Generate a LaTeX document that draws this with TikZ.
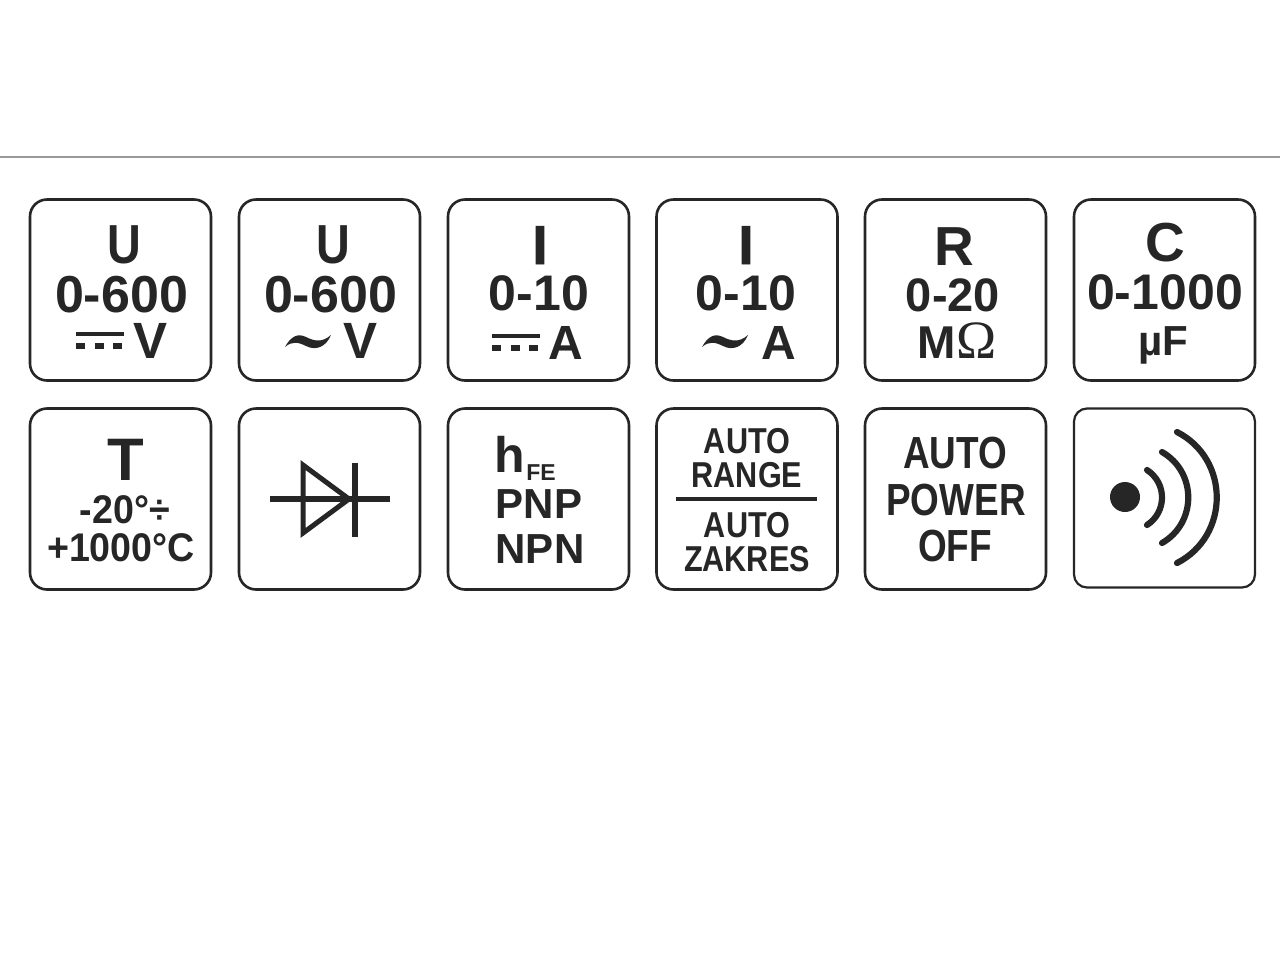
\documentclass[tikz,border=0pt]{standalone}
\usepackage{fontspec}
\setmainfont{Liberation Sans}
\newfontfamily\narrowfont[FakeStretch=0.85]{Liberation Sans}
\newfontfamily\powerfont[FakeStretch=0.82]{Liberation Sans}
\newfontfamily\tempfont[FakeStretch=0.94]{Liberation Sans}
\newfontfamily\heavyfont[FakeBold=1.5]{Liberation Sans}
\newfontfamily\omegafont{Liberation Serif}
\newcommand{\fs}[1]{\fontsize{#1}{#1}\selectfont\bfseries}
\definecolor{ink}{HTML}{262626}
\tikzset{
        tile/.style={draw=ink, line width=1.3pt, rounded corners=8.5pt, minimum size=90.5pt, inner sep=0pt},
        lbl/.style={text=ink, anchor=base, inner sep=0pt},
        huge/.style={lbl, font=\narrowfont\fs{27.5}},
        mid/.style={lbl, font=\fs{25}},
        temp/.style={lbl, font=\tempfont\fs{20}},
        nar/.style={lbl, font=\narrowfont\fs{18}},
        pow/.style={lbl, font=\powerfont\fs{22.5}},
        sym/.style={ink, line width=3.4pt},
        wave/.style={ink, line width=3.1pt, line cap=round}
}

\begin{document}
\begin{tikzpicture}[x=0.5pt, y=-0.5pt]
        \useasboundingbox (0, 0) rectangle (1280, 960);
        \draw[black!40, line width=0.7pt] (0, 157) -- (1280, 157);

        % top row, then bottom row
        \foreach \n/\x in {a/120.5, b/329.5, c/538.5, d/747, e/955.5, f/1164.5}
                \node[tile] (tile\n) at (\x, 290) {};
        \foreach \n/\x in {g/120.5, h/329.5, i/538.5, j/747, k/955.5}
                \node[tile] (tile\n) at (\x, 499) {};
        \node[tile, line width=1.1pt, rounded corners=6.5pt, minimum height=89.5pt] (tilel) at (1164.5, 498) {};

        \foreach \n/\x/\txt in {ua/124/U, ub/333/U}
                \node[huge] (head\n) at (\x, 263) {\txt};
        \foreach \n/\x/\txt in {ia/540/I, ib/746/I}
                \node[lbl, font=\heavyfont\fs{27.5}] (head\n) at (\x, 264) {\txt};
        \foreach \n/\x/\y/\txt in {r/954/265/R, c/1165/261/C}
                \node[lbl, font=\fs{27.5}] (head\n) at (\x, \y) {\txt};
        \node[mid, font=\fs{26}] (rangeua) at (121.5, 312) {0-600};
        \node[mid, font=\fs{26}] (rangeub) at (330.5, 312) {0-600};
        \foreach \n/\x/\y/\txt in {ia/539/310/0-10, ib/746/310/0-10, c/1165/309/0-1000}
                \node[mid] (range\n) at (\x, \y) {\txt};
        \node[mid, font=\fs{23.5}] (ranger) at (953, 311) {0-20};
        \foreach \n/\x/\y/\txt in {ua/151/358/V, ub/361/358/V}
                \node[lbl, font=\fs{25.5}] (unit\n) at (\x, \y) {\txt};
        \foreach \n/\x/\txt in {ia/566/A, ib/779/A}
                \node[lbl, font=\fs{24}] (unit\n) at (\x, 359) {\txt};
        \node[lbl, font=\fs{23}] (unitr) at (957, 358) {M{\omegafont\mdseries\fontsize{27}{27}\selectfont\char"03A9}};
        \node[lbl, font=\fs{21}] (unitc) at (1163, 355) {µF};

        % dc marks
        \foreach \x/\y in {76/334, 492/336} {
                \draw[ink, line width=1.8pt] (\x, \y) -- ++(48, 0);
                \draw[ink, line width=2.8pt, dash pattern=on 4.5pt off 4.8pt] (\x, \y+12) -- ++(48, 0);
        }
        % ac marks
        \foreach \x in {285, 702}
                \fill[ink] (\x, 347) .. controls (\x+6, 336) and (\x+13, 333) .. (\x+21, 337)
                        .. controls (\x+29, 341) and (\x+37, 343) .. (\x+46, 335)
                        .. controls (\x+41, 347) and (\x+31, 351) .. (\x+21, 346)
                        .. controls (\x+13, 342) and (\x+7, 341) .. (\x, 347) -- cycle;

        % temperature
        \node[lbl, font=\fs{30}] (tempt) at (126, 480) {T};
        \node[temp] (tempa) at (125, 523) {-20°÷};
        \node[temp] (tempb) at (121, 561) {+1000°C};

        % diode
        \draw[sym] (270, 499) -- (390, 499);
        \draw[ink, line width=2.5pt, miter limit=10] (303, 465) -- (349, 499) -- (303, 533) -- cycle;
        \draw[sym] (355, 463) -- (355, 537);

        % transistor
        \node[lbl, font=\fs{25}] (hfe) at (510, 472) {h};
        \node[lbl, font=\fs{11.5}] (hfesub) at (541, 480) {FE};
        \node[lbl, font=\fs{21}] (pnp) at (539, 518) {PNP};
        \node[lbl, font=\fs{21}] (npn) at (540, 563) {NPN};

        % auto range
        \node[nar] (autoa) at (747, 453) {AUTO};
        \node[nar] (rangea) at (747, 487) {RANGE};
        \draw[ink, line width=1.9pt] (676, 499) -- (817, 499);
        \node[nar] (autob) at (747, 537) {AUTO};
        \node[nar] (zakres) at (747, 571) {ZAKRES};

        % auto power off
        \node[pow] (autoc) at (955, 468) {AUTO};
        \node[pow] (power) at (956, 515) {POWER};
        \node[pow] (off) at (955, 561) {OFF};

        % sound
        \fill[ink] (1125, 497) circle [radius=7.5pt];
        \draw[wave] (1147, 470) .. controls (1167, 483) and (1167, 512) .. (1147, 525);
        \draw[wave] (1162, 452) .. controls (1197, 472) and (1197, 523) .. (1162, 543);
        \draw[wave] (1177, 432) .. controls (1230, 459) and (1230, 536) .. (1177, 563);
\end{tikzpicture}
\end{document}
